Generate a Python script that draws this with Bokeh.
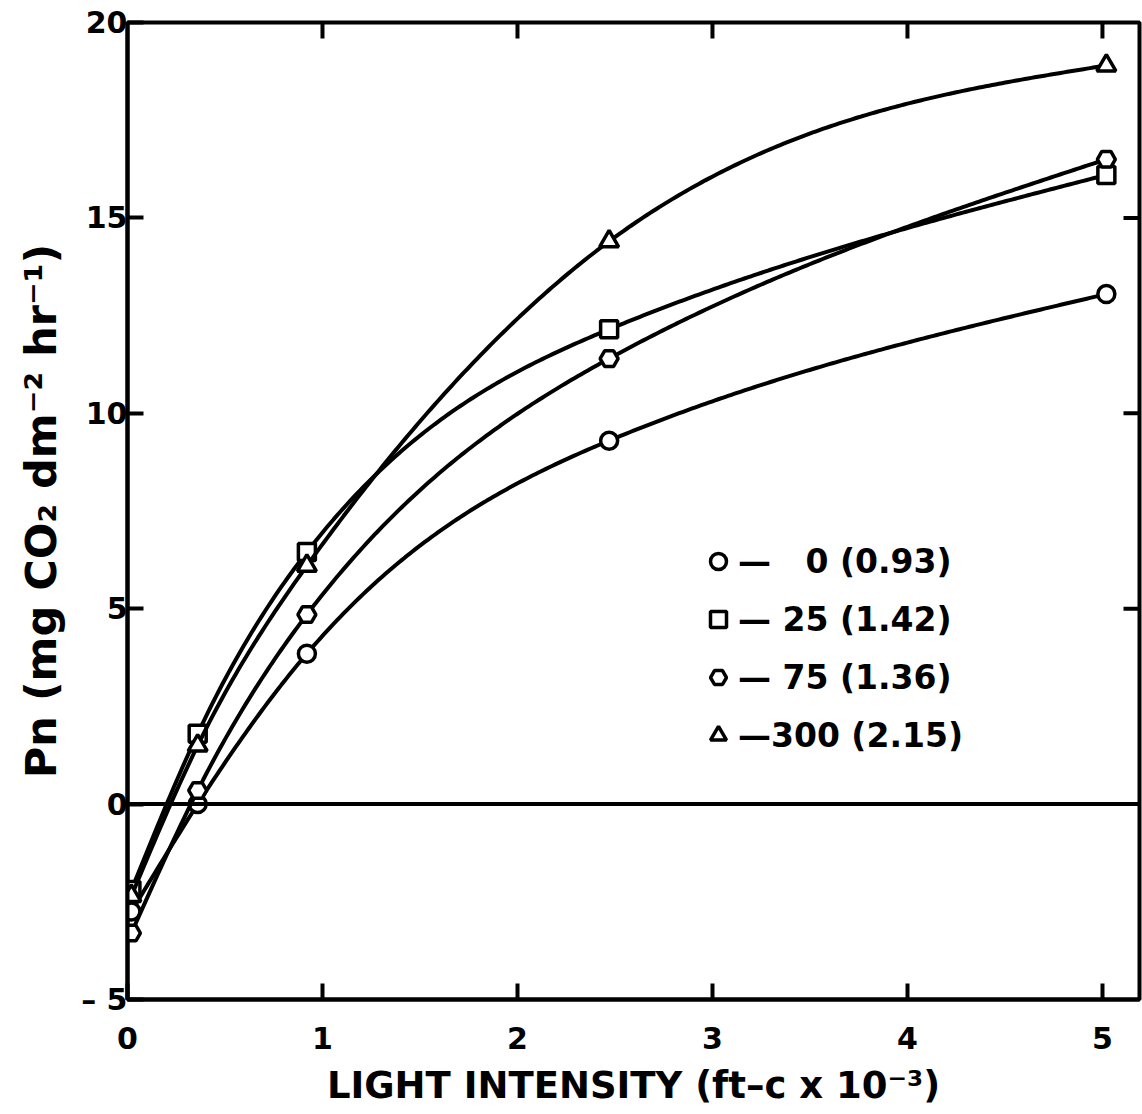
import numpy as np
from bokeh.plotting import figure
from bokeh.models import Range1d, FixedTicker, Span, Legend, LegendItem
from bokeh.embed import file_html
from bokeh.resources import INLINE

# ---- data ----
light = [0.02, 0.36, 0.92, 2.47, 5.02]          # ft-c x 10^-3
pn_0 = [-2.75, 0.0, 3.85, 9.3, 13.05]
pn_25 = [-2.2, 1.8, 6.45, 12.15, 16.1]
pn_75 = [-3.3, 0.35, 4.85, 11.4, 16.5]
pn_300 = [-2.35, 1.5, 6.1, 14.4, 18.9]
series_labels = ["\u2014   0 (0.93)", "\u2014 25 (1.42)", "\u2014 75 (1.36)", "\u2014300 (2.15)"]
x_ticks = [0, 1, 2, 3, 4, 5]
y_ticks = [-5, 0, 5, 10, 15, 20]

X_END = 5.19
Y_START, Y_END = -5, 20


def natural_spline(x, y, n=300):
    x = np.asarray(x, float)
    y = np.asarray(y, float)
    N = len(x)
    h = np.diff(x)
    A = np.zeros((N, N))
    b = np.zeros(N)
    A[0, 0] = 1
    A[-1, -1] = 1
    for i in range(1, N - 1):
        A[i, i - 1] = h[i - 1]
        A[i, i] = 2 * (h[i - 1] + h[i])
        A[i, i + 1] = h[i]
        b[i] = 3 * ((y[i + 1] - y[i]) / h[i] - (y[i] - y[i - 1]) / h[i - 1])
    c = np.linalg.solve(A, b)
    bb = (y[1:] - y[:-1]) / h - h * (2 * c[:-1] + c[1:]) / 3
    d = (c[1:] - c[:-1]) / (3 * h)
    xs = np.linspace(x[0], x[-1], n)
    idx = np.clip(np.searchsorted(x, xs) - 1, 0, N - 2)
    dx = xs - x[idx]
    ys = y[idx] + bb[idx] * dx + c[idx] * dx ** 2 + d[idx] * dx ** 3
    return xs, ys


FONT = "DejaVu Sans"

p = figure(width=1142, height=1110, output_backend="svg", toolbar_location=None,
           x_range=Range1d(0, X_END), y_range=Range1d(Y_START, Y_END),
           min_border_left=127, min_border_right=3, min_border_top=22, min_border_bottom=111)
p.grid.visible = False
p.outline_line_color = "black"
p.outline_line_width = 4
p.background_fill_color = "white"
p.border_fill_color = "white"

# axes
for ax in (p.xaxis[0], p.yaxis[0]):
    ax.axis_line_width = 4
    ax.major_tick_line_width = 4
    ax.major_tick_in = 16
    ax.major_tick_out = 0
    ax.minor_tick_line_color = None
    ax.major_label_text_font = FONT
    ax.major_label_text_font_style = "bold"
    ax.major_label_text_color = "black"
    ax.axis_label_text_font = FONT
    ax.axis_label_text_font_style = "bold"
    ax.axis_label_text_color = "black"

p.xaxis.ticker = FixedTicker(ticks=x_ticks)
p.xaxis.major_label_text_font_size = "30px"
p.xaxis.major_label_standoff = 27
p.xaxis.axis_label = "LIGHT INTENSITY (ft\u2013c x 10\u207b\u00b3)"
p.xaxis.axis_label_text_font_size = "37px"
p.xaxis.axis_label_standoff = 12

p.yaxis.ticker = FixedTicker(ticks=y_ticks)
p.yaxis.major_label_text_font_size = "30px"
p.yaxis.major_label_standoff = 0
p.yaxis.major_label_overrides = {-5: "\u2013 5"}
p.yaxis.axis_label = "Pn (mg CO\u2082 dm\u207b\u00b2 hr\u207b\u00b9)"
p.yaxis.axis_label_text_font_size = "43px"
p.yaxis.axis_label_standoff = 12

# inward ticks on the top and right borders
p.ray(x=x_ticks[1:], y=Y_END, length=16, length_units="screen", angle=-np.pi / 2,
      line_color="black", line_width=4)
p.ray(x=X_END, y=y_ticks[2:-1], length=16, length_units="screen", angle=np.pi,
      line_color="black", line_width=4)

p.add_layout(Span(location=0, dimension="width", line_color="black", line_width=4))

all_series = [pn_0, pn_25, pn_75, pn_300]
markers = ["circle", "square", "hex", "triangle"]
sizes = [17, 17, 18, 19]
items = []
for ys, mk, sz, lab in zip(all_series, markers, sizes, series_labels):
    cx, cy = natural_spline(light, ys)
    p.line(cx, cy, line_color="black", line_width=4)
    r = p.scatter(light, ys, marker=mk, size=sz, fill_color="white",
                  line_color="black", line_width=3.5)
    items.append(LegendItem(label=lab, renderers=[r]))

legend = Legend(items=items, location=(571, 243), border_line_color=None,
                background_fill_alpha=0, label_text_font=FONT, label_text_font_style="bold",
                label_text_font_size="33px", label_text_color="black", label_standoff=0,
                glyph_width=40, glyph_height=42, label_height=42, spacing=16,
                padding=0, margin=0)
p.add_layout(legend, "center")

open("out.html", "w").write(file_html(p, INLINE))
